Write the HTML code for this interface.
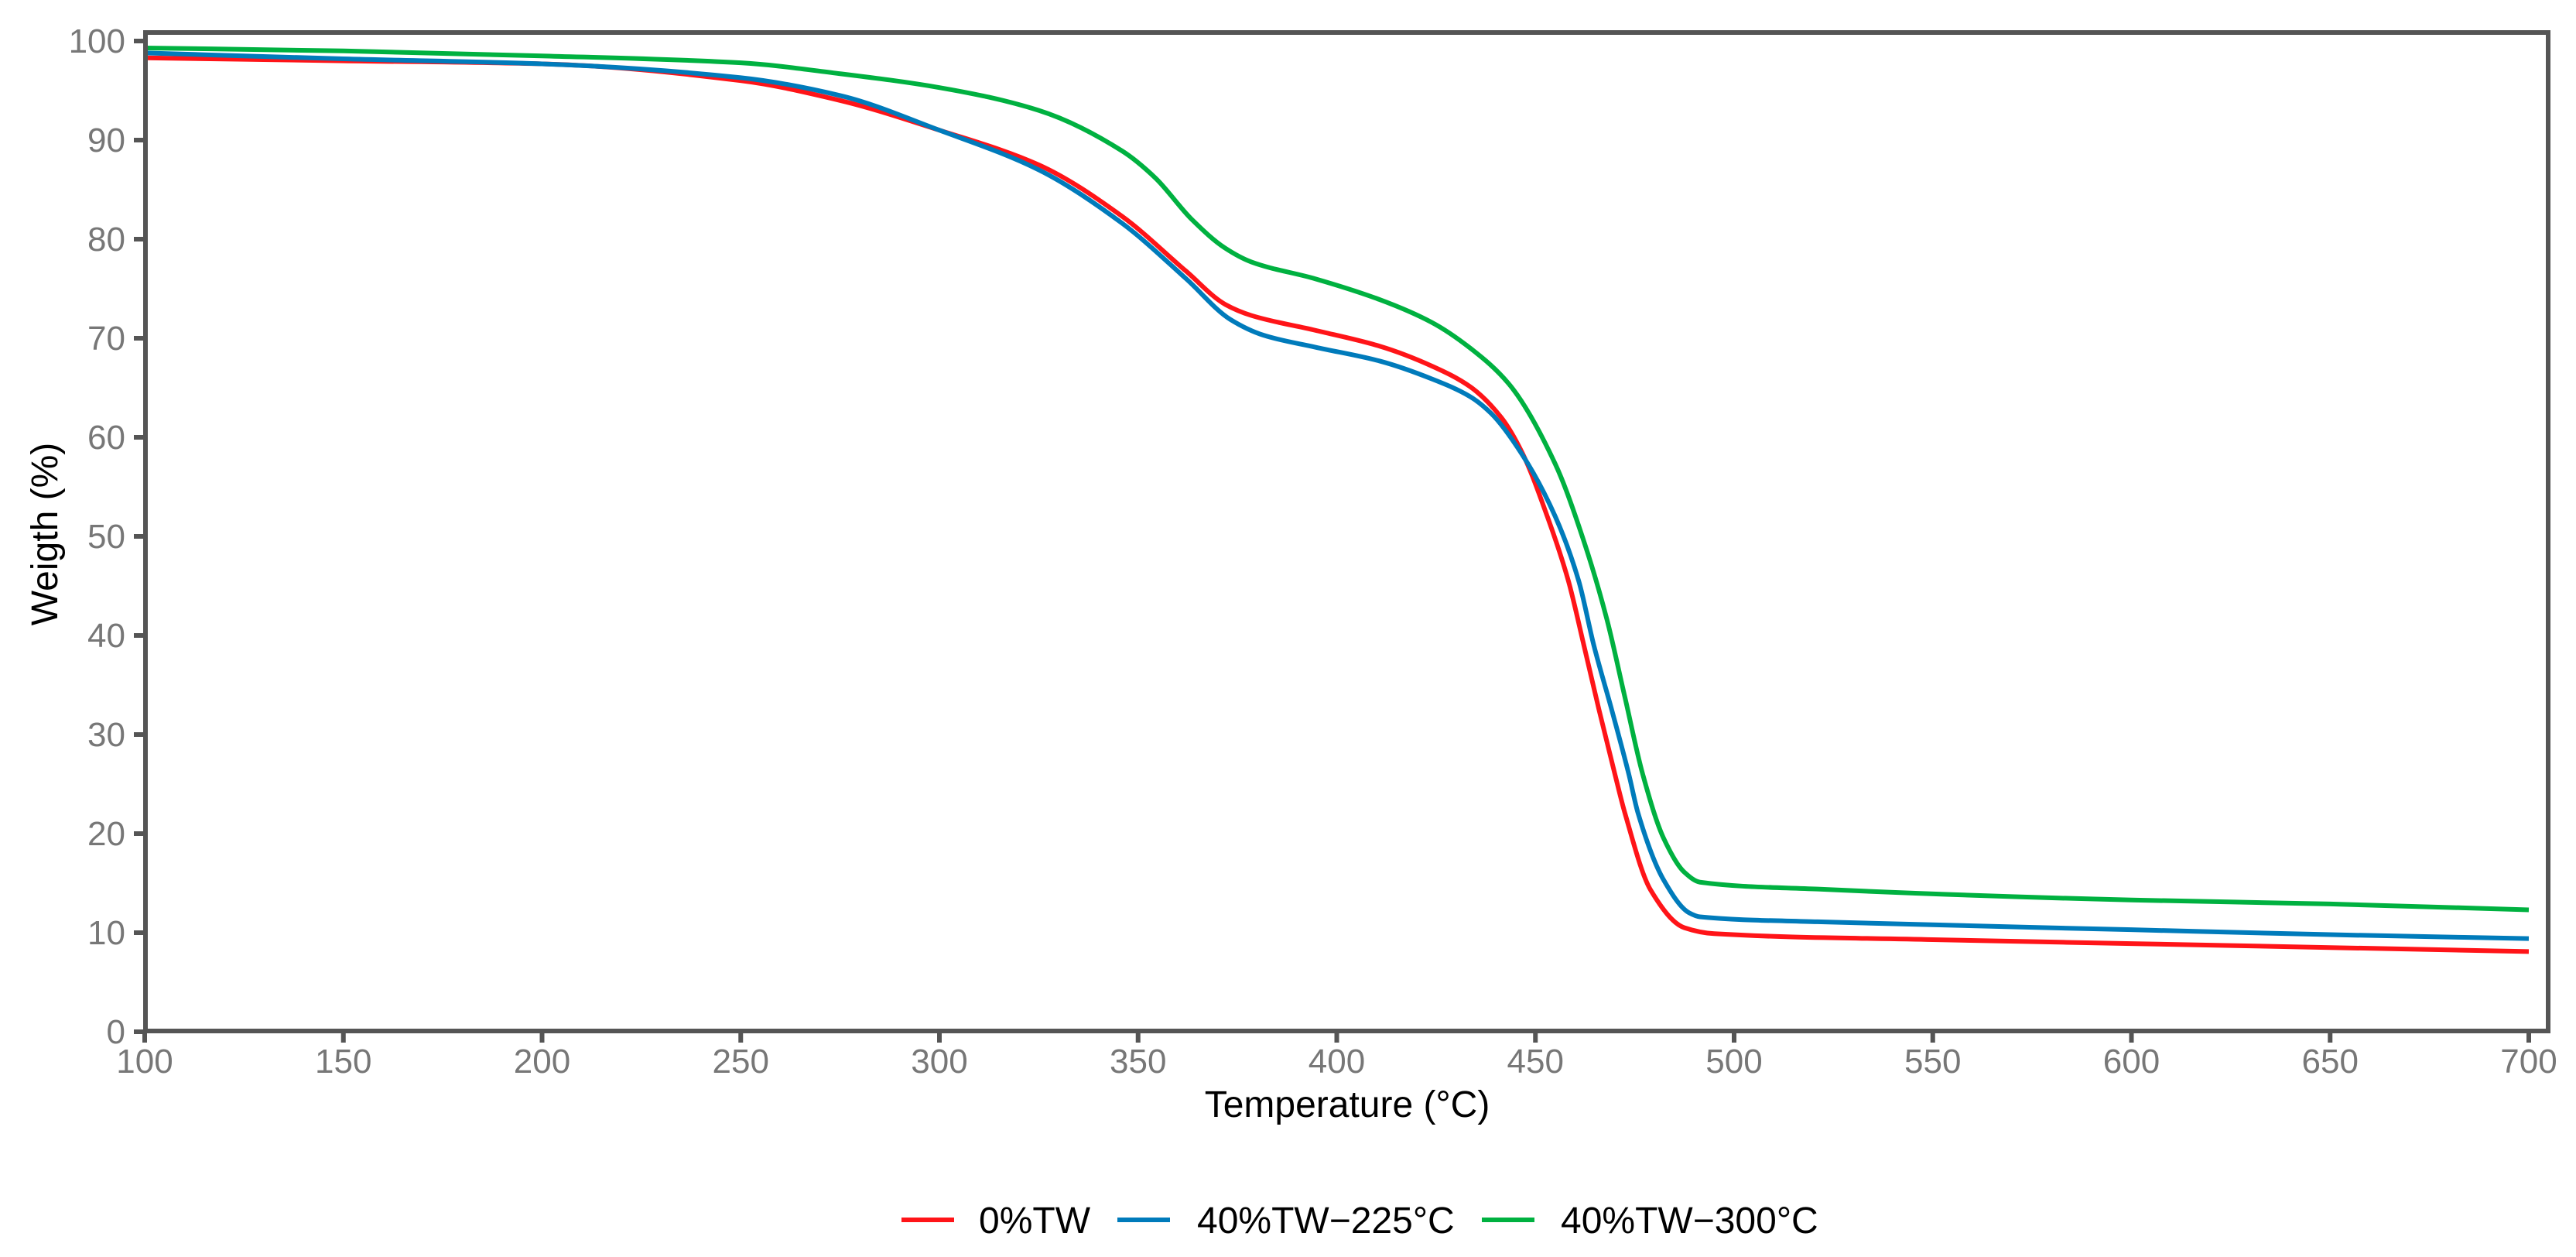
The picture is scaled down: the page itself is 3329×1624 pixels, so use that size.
<!DOCTYPE html>
<html><head><meta charset="utf-8"><style>
html,body{margin:0;padding:0;background:#fff;}
svg{display:block;font-family:"Liberation Sans",Arial,sans-serif;}
</style></head><body>
<svg id="chart" width="3329" height="1624" viewBox="0 0 3329 1624" xmlns="http://www.w3.org/2000/svg">
<rect width="3329" height="1624" fill="#fff"/>
<g id="ticks"></g>
<g id="series"></g>
<rect x="188" y="42" width="3105" height="1290" fill="none" stroke="#555" stroke-width="6"/>
<text x="1741" y="1443" font-size="48" text-anchor="middle" fill="#000">Temperature (°C)</text>
<text transform="translate(74,690) rotate(-90)" font-size="48" text-anchor="middle" fill="#000">Weigth (%)</text>
<g id="legend"></g>
</svg>
<script>
const redT   = [100,150,200,250,275,300,325,346,362,372,378.5,394.6,410.8,423.9,433.6,441.4,446.6,453,458.3,462.2,466,470,472.5,479,487.5,495,550,600,650,700];
const red    = [98.3,98,97.7,96,94,91,87.5,82.3,76.8,73.4,72.3,70.8,69.2,67.2,65.1,62.0,58.5,52,45.5,39,32.5,26,22.1,14.3,10.5,9.9,9.3,8.9,8.5,8.1];
const blueT  = [100,150,200,250,275,300,325,346,362.1,373.2,381.6,394.6,410.8,423.9,433.6,438.9,446.6,455,460.9,464.7,469.2,473.5,475.8,482.3,488.7,491.4,521,600,650,700];
const blue   = [98.8,98.2,97.7,96.3,94.5,91,87,81.6,76,71.9,70.3,69.1,67.7,65.9,64.1,62.4,58.3,52,45.5,39,32.5,26,22.1,15.3,12,11.6,11.1,10.3,9.8,9.4];
const greenT = [100,150,200,250,275,300,325,346,354.3,363.5,371.9,378.5,394.6,410.8,423.9,433.6,443.3,455,462.2,468,472.5,477,482.3,487.5,491.4,521,600,650,700];
const green  = [99.3,99,98.5,97.8,96.7,95.3,93,88.9,86.2,82,79.1,77.7,76,73.9,71.6,69,65.4,57.3,49.5,41.6,33.8,26,19.5,16.1,15.1,14.4,13.3,12.9,12.3];
const seriesNames = ["0%TW","40%TW\u2212225°C","40%TW\u2212300°C"];
const xTicks = [100,150,200,250,300,350,400,450,500,550,600,650,700];
const yTicks = [0,10,20,30,40,50,60,70,80,90,100];

const NS="http://www.w3.org/2000/svg";
function X(t){return 187+(t-100)*(3268-187)/600;}
function Y(v){return 1333-v*12.8;}
function mk(tag,attrs,parent){const e=document.createElementNS(NS,tag);for(const k in attrs)e.setAttribute(k,attrs[k]);parent.appendChild(e);return e;}
const tg=document.getElementById('ticks');
xTicks.forEach(t=>{
  const l=mk('line',{x1:X(t),x2:X(t),y1:1332,y2:1347,stroke:'#555','stroke-width':6},tg);
  
  
  const tx=mk('text',{x:X(t),y:1386,'font-size':44,'text-anchor':'middle',fill:'#777'},tg);
  tx.textContent=t;
  
  
});
yTicks.forEach(v=>{
  const l=mk('line',{x1:173,x2:188,y1:Y(v),y2:Y(v),stroke:'#555','stroke-width':6},tg);
  
  
  const tx=mk('text',{x:162,y:Y(v)+15,'font-size':44,'text-anchor':'end',fill:'#777'},tg);
  tx.textContent=v;
  
  
});
function pathFor(ts,vals){
  const xs=ts.map(X), ys=vals.map(Y), n=xs.length;
  const d=[],m=new Array(n);
  for(let i=0;i<n-1;i++)d.push((ys[i+1]-ys[i])/(xs[i+1]-xs[i]));
  m[0]=d[0];m[n-1]=d[n-2];
  for(let i=1;i<n-1;i++){
    if(d[i-1]*d[i]<=0)m[i]=0;
    else{const h0=xs[i]-xs[i-1],h1=xs[i+1]-xs[i];const w1=2*h1+h0,w2=h1+2*h0;m[i]=(w1+w2)/(w1/d[i-1]+w2/d[i]);}
  }
  let s='M'+xs[0]+','+ys[0];
  for(let i=0;i<n-1;i++){
    const h=(xs[i+1]-xs[i])/3;
    s+=' C'+(xs[i]+h)+','+(ys[i]+m[i]*h)+' '+(xs[i+1]-h)+','+(ys[i+1]-m[i+1]*h)+' '+xs[i+1]+','+ys[i+1];
  }
  return s;
}
const sg=document.getElementById('series');
const colors=['#ff1418','#007bbb','#00b140'];
const data=[[redT,red],[blueT,blue],[greenT,green]];
const keys=['series-0pct-tw','series-40pct-tw-225c','series-40pct-tw-300c'];
data.forEach((s,i)=>{
  const e=mk('path',{d:pathFor(s[0],s[1]),fill:'none',stroke:colors[i],'stroke-width':6,'stroke-linejoin':'round'},sg);
  
  
});
const lg=document.getElementById('legend');
const keyX=[1165,1444,1915], textX=[1265,1547,2017];
seriesNames.forEach((n,i)=>{
  const l=mk('line',{x1:keyX[i],x2:keyX[i]+68,y1:1576,y2:1576,stroke:colors[i],'stroke-width':6},lg);
  
  
  const t=mk('text',{x:textX[i],y:1593,'font-size':48,fill:'#000'},lg);
  t.textContent=n;
  
  
});
</script>
</body></html>
